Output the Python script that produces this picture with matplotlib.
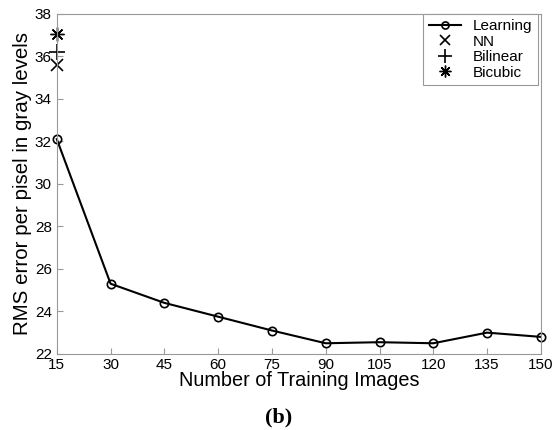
import matplotlib.pyplot as plt

n_images = [15, 30, 45, 60, 75, 90, 105, 120, 135, 150]
rms_learning = [32.1, 25.3, 24.4, 23.75, 23.1, 22.5, 22.55, 22.5, 23.0, 22.8]
nn_rms = 35.6
bilinear_rms = 36.2
bicubic_rms = 37.05

plt.rcParams['font.family'] = ['Liberation Sans', 'DejaVu Sans']

fig = plt.figure(figsize=(5.57, 4.30), dpi=100)
ax = fig.add_axes([0.102, 0.177, 0.869, 0.791])

ax.plot(n_images, rms_learning, color='black', linewidth=1.5, marker='o',
        markersize=6, markerfacecolor='none', markeredgewidth=1.2,
        label='Learning', clip_on=False)
ax.plot([15], [nn_rms], linestyle='none', marker='x', color='black',
        markersize=9, markeredgewidth=1.2, label='NN', clip_on=False)
ax.plot([15], [bilinear_rms], linestyle='none', marker='+', color='black',
        markersize=12, markeredgewidth=1.2, label='Bilinear', clip_on=False)
ax.plot([15], [bicubic_rms], linestyle='none', marker=(8, 2, 0), color='black',
        markersize=10, markeredgewidth=1.0, label='Bicubic', clip_on=False)

ax.set_xlim(15, 150)
ax.set_ylim(22, 38)
ax.set_xticks(n_images)
ax.set_yticks(range(22, 39, 2))
ax.tick_params(direction='in', length=4, color='#999999', labelsize=11, pad=3)
ax.tick_params(axis='y', pad=3.5)
for s in ax.spines.values():
    s.set_color('#999999')
ax.set_xlabel('Number of Training Images', fontsize=14.3, labelpad=-1)
ax.set_ylabel('RMS error per pisel in gray levels', fontsize=14.8, labelpad=2)

leg = ax.legend(loc='upper right', bbox_to_anchor=(0.994, 1.0), borderaxespad=0,
                fontsize=11, fancybox=False, framealpha=1, edgecolor='#999999',
                handlelength=2.1, borderpad=0.35, labelspacing=0.1,
                handletextpad=0.8, markerscale=0.85)
leg.get_frame().set_linewidth(0.8)

fig.text(0.5, 0.028, '(b)', ha='center', va='center', fontsize=16,
         fontweight='bold', family='Liberation Serif')

fig.savefig('out.png', dpi=100)
